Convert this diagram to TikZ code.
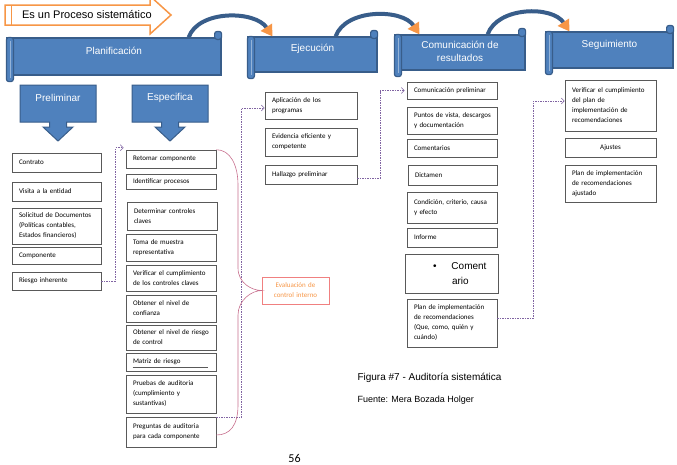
\documentclass[tikz,border=0pt]{standalone}
\usepackage{fontspec}
\setmainfont{Carlito}
\newfontfamily\arialfont{Liberation Sans}
\usetikzlibrary{arrows.meta}

\definecolor{bannerblue}{HTML}{4F81BD}
\definecolor{bannerline}{HTML}{385D8A}
\definecolor{rolllight}{HTML}{95B3D7}
\definecolor{accentorange}{HTML}{F79646}
\definecolor{linkpurple}{HTML}{8064A2}
\definecolor{bracepink}{HTML}{C8708E}
\definecolor{evalred}{HTML}{F08080}

\tikzset{
  itembox/.style={draw=black!65, line width=0.6pt, fill=white, align=left,
    inner xsep=7pt, inner ysep=0pt, font=\fontsize{7}{10}\selectfont,
    execute at begin node={\hyphenpenalty=10000\exhyphenpenalty=10000\hbadness=10000\hfuzz=20pt}},
  banner/.style={fill=bannerblue, draw=bannerline, line width=1.2pt},
  bannertext/.style={text=white, font=\arialfont\fontsize{10}{13}\selectfont, align=center},
  dashlink/.style={draw=linkpurple, line width=0.6pt, dash pattern=on 1.5pt off 1pt,
    -{Straight Barb[length=3pt,width=6pt]}},
  brace/.style={draw=bracepink, line width=0.6pt},
  turnarrow/.style={draw=bannerline, line width=4pt,
    -{Triangle[length=11pt,width=13pt,color=accentorange]}},
}

\begin{document}
\begin{tikzpicture}[x=1pt,y=-1pt]
\fill[white] (0,0) rectangle (677,464);
\useasboundingbox (0,0) rectangle (677,464);

% top arrow
\draw[draw=accentorange, line width=1.5pt, fill=white]
  (5,5) -- (150,5) -- (150,-4) -- (171,15) -- (150,34) -- (150,25) -- (5,25) -- cycle;
\draw[accentorange, line width=1pt] (11,5) -- (11,25);
\node[anchor=west, font=\arialfont\fontsize{11}{13}\selectfont] (proceso) at (18.5,15) {Es un Proceso sistemático};

% banners
\node[banner, minimum width=214pt, minimum height=37pt,
  label={[bannertext,yshift=5.5pt]center:Planificación}] (plan) at (114,56.5) {};
\node[banner, minimum width=129pt, minimum height=35pt,
  label={[bannertext,yshift=5.5pt]center:Ejecución}] (ejec) at (312.5,54.5) {};
\node[banner, minimum width=130pt, minimum height=35pt,
  label={[bannertext,yshift=1pt]center:Comunicación de\\resultados}] (comu) at (460,52.5) {};
\node[banner, minimum width=127pt, minimum height=36pt,
  label={[bannertext,yshift=5pt]center:Seguimiento}] (segu) at (609.5,50) {};

% scroll ends
\foreach \b in {plan,ejec,comu,segu} {
  \draw[banner, rounded corners=2.5pt] (\b.north west) rectangle ([xshift=7pt,yshift=-6pt]\b.south west);
  \draw[rolllight, line width=0.8pt] ([xshift=3.5pt,yshift=-4pt]\b.north west) -- ([xshift=3.5pt,yshift=-2pt]\b.south west);
  \draw[banner, rounded corners=2.5pt] ([xshift=-7pt,yshift=6pt]\b.north east) rectangle ([yshift=-2pt]\b.north east);
}

% curved arrows between phases
\foreach \a/\b/\s/\e in {plan/ejec/-33/25, ejec/comu/-42/25, comu/segu/-38/24}
  \draw[turnarrow] ([xshift=\s pt]\a.north east) .. controls +(10,-28) and +(-17,-26) .. ([xshift=\e pt]\b.north west);

% down arrows
\foreach \cx/\txt/\nm in {58/Preliminar/prel, 170/Especifica/espe} {
  \draw[fill=bannerblue, draw=bannerline, line width=1pt]
    (\cx-38,85) -- (\cx+38,85) -- (\cx+38,122) -- (\cx+8.5,122) -- (\cx+8.5,127) -- (\cx+15,127)
    -- (\cx,141) -- (\cx-15,127) -- (\cx-8.5,127) -- (\cx-8.5,122) -- (\cx-38,122) -- cycle;
  \node[bannertext] (\nm) at (\cx,98) {\txt};
}

% preliminar
\node[itembox, text width=75pt, minimum height=19pt] (contrato) at (56.5,162.5) {Contrato};
\node[itembox, text width=75pt, minimum height=19pt] (visita) at (56.5,191.5) {Visita a la entidad};
\node[itembox, text width=75pt, minimum height=36pt] (solicitud) at (56.5,226) {Solicitud de Documentos\\(Políticas contables,\\Estados financieros)};
\node[itembox, text width=75pt, minimum height=17pt] (componente) at (56.5,255.5) {Componente};
\node[itembox, text width=75pt, minimum height=18pt] (riesgo) at (56.5,281) {Riesgo inherente};

% especifica
\node[itembox, text width=76pt, minimum height=18pt] (retomar) at (171,159) {Retomar componente};
\node[itembox, text width=76pt, minimum height=15pt] (identificar) at (171,181.5) {Identificar procesos};
\node[itembox, text width=76pt, minimum height=28pt] (determinar) at (172,216) {Determinar controles\\claves};
\node[itembox, text width=76pt, minimum height=27pt] (toma) at (171,247.5) {Toma de muestra\\representativa};
\node[itembox, text width=76pt, minimum height=26pt] (verificarcc) at (171,278) {Verificar el cumplimiento\\de los controles claves};
\node[itembox, text width=76pt, minimum height=27pt] (confianza) at (171,308.5) {Obtener el nivel de\\confianza};
\node[itembox, text width=76pt, minimum height=25pt] (riesgoctl) at (171,337.5) {Obtener el nivel de riesgo\\de control};
\node[itembox, text width=76pt, minimum height=18pt] (matriz) at (171,362) {Matriz de riesgo};
\draw[black!65, line width=0.5pt] ([xshift=7pt,yshift=4pt]matriz.south west) -- ([xshift=-8pt,yshift=4pt]matriz.south east);
\node[itembox, text width=76pt, minimum height=38pt] (pruebas) at (171,394) {Pruebas de auditoria\\(cumplimiento y\\sustantivas)};
\node[itembox, text width=76pt, minimum height=30pt] (preguntas) at (171,432) {Preguntas de auditoria\\para cada componente};

\node[itembox, draw=evalred, text=accentorange, align=center, text width=53pt, minimum height=27pt] (evaluacion) at (295.5,290.5) {Evaluación de\\control interno};

% ejecucion
\node[itembox, text width=78pt, minimum height=27pt] (aplicacion) at (311,105.5) {Aplicación de los\\programas};
\node[itembox, text width=78pt, minimum height=28pt] (evidencia) at (311,142) {Evidencia eficiente y\\competente};
\node[itembox, text width=78pt, minimum height=19pt] (hallazgo) at (311,174.5) {Hallazgo preliminar};

% comunicacion
\node[itembox, text width=76pt, minimum height=17pt] (compre) at (452,90.5) {Comunicación preliminar};
\node[itembox, text width=76pt, minimum height=27pt] (puntos) at (452,120.5) {\mbox{Puntos de vista, descargos}\\y documentación};
\node[itembox, text width=76pt, minimum height=18pt] (comentarios) at (452,148) {Comentarios};
\node[itembox, text width=75pt, minimum height=20pt] (dictamen) at (452.5,175) {Dictamen};
\node[itembox, text width=76pt, minimum height=31pt] (condicion) at (452,207.5) {Condición, criterio, causa\\y efecto};
\node[itembox, text width=76pt, minimum height=19pt] (informe) at (452,237.5) {Informe};
\node[itembox, text width=79pt, minimum height=39pt, font=\arialfont\fontsize{10}{15}\selectfont] (comentario) at (451.5,273.5)
  {\hspace*{21pt}\textbullet\hspace{15pt}Coment\\\hspace*{40pt}ario};
\node[itembox, text width=76pt, minimum height=48pt] (planrec) at (452,323) {Plan de implementación\\de recomendaciones\\(Que, como, quién y\\cuándo)};

% seguimiento
\node[itembox, text width=77pt, minimum height=51pt] (verif) at (610.5,105.5) {Verificar el cumplimiento\\del plan de\\implementación de\\recomendaciones};
\node[itembox, text width=77pt, minimum height=19pt, align=center] (ajustes) at (610.5,147.5) {Ajustes};
\node[itembox, text width=77pt, minimum height=37pt] (planaj) at (610.5,183.5) {Plan de implementación\\de recomendaciones\\ajustado};

% dashed links
\draw[dashlink] (riesgo.east) -- ++(14,0) |- ([xshift=-2pt,yshift=2pt]retomar.north west);
\draw[dashlink] ([yshift=-1pt]preguntas.north east) -- ++(25,0) |- ([yshift=-2.5pt]aplicacion.west);
\draw[dashlink] ([yshift=-3.5pt]hallazgo.east) -- ++(23,0) |- ([xshift=-2pt]compre.west);
\draw[dashlink] ([yshift=5pt]planrec.east) -- ++(36,0) |- ([yshift=4.5pt]verif.west);

% brace
\draw[brace] (retomar.north east) .. controls +(14,0) and +(0,-20) .. (238,185) -- (238,268)
  .. controls +(0,15) and +(-10,0) .. (evaluacion.west)
  .. controls +(-10,0) and +(0,-15) .. (238,315) -- (238,405)
  .. controls +(0,20) and +(14,0) .. ([yshift=-3pt]preguntas.east);

% caption
\node[anchor=west, font=\arialfont\fontsize{10}{12}\selectfont] (figura) at (354,378) {Figura \#7 - Auditoría sistemática};
\node[anchor=west, font=\arialfont\fontsize{9}{11}\selectfont] (fuente) at (354,400) {Fuente: Mera Bozada Holger};
\node[font=\fontsize{12}{14}\selectfont] (pagina) at (294.5,458) {56};

\end{tikzpicture}
\end{document}
